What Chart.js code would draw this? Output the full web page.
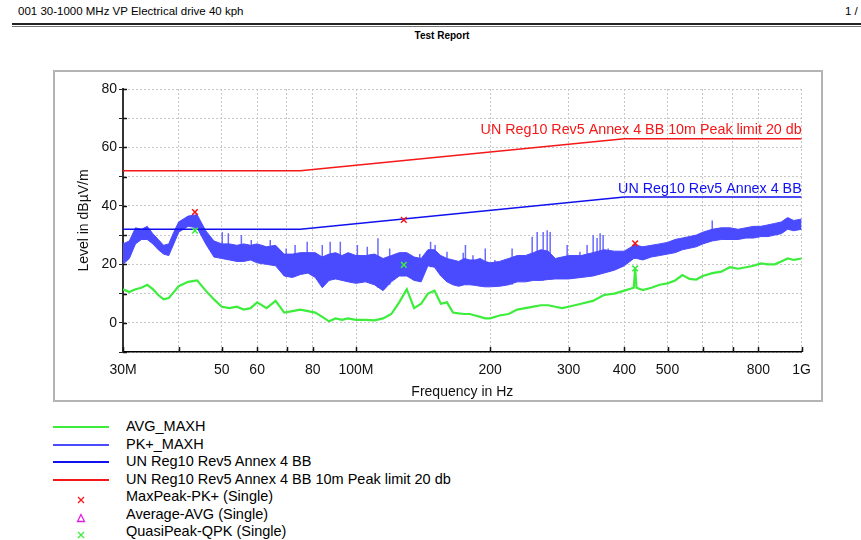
<!DOCTYPE html>
<html>
<head>
<meta charset="utf-8">
<script src="https://cdn.jsdelivr.net/npm/chart.js@4.4.1/dist/chart.umd.min.js"></script>
<style>
  body { margin: 0; width: 861px; height: 540px; overflow: hidden; background: #fff; position: relative;
         font-family: Arial, "Liberation Sans", sans-serif; color: #000; }
  #hdr { position: absolute; left: 18px; top: 5px; font-size: 11.5px; white-space: nowrap; }
  #pageno { position: absolute; left: 845px; top: 5px; font-size: 11.5px; white-space: nowrap; }
  #rule1 { position: absolute; left: 12px; right: 0; top: 23px; height: 2px; background: #222; }
  #rule2 { position: absolute; left: 12px; right: 0; top: 26px; height: 1px; background: #777; }
  #title { position: absolute; left: 0; width: 884px; top: 30px; text-align: center; font-size: 10px; font-weight: bold; }
  #frame { position: absolute; left: 53px; top: 70px; width: 770px; height: 332px; box-sizing: border-box;
           border: 2px solid #b4b4b4; background: #fff; }
  #wrap { position: absolute; left: 55px; top: 72px; width: 766px; height: 330px; }
  .row { position: absolute; left: 126px; height: 18px; line-height: 18px; font-size: 14.5px; white-space: nowrap; }
  .swatch { position: absolute; left: 53px; width: 56px; height: 2px; }
  .mark { position: absolute; left: 76px; }
</style>
</head>
<body>
<div id="hdr">001 30-1000 MHz VP Electrical drive 40 kph</div>
<div id="pageno">1 / 2</div>
<div id="rule1"></div>
<div id="rule2"></div>
<div id="title">Test Report</div>
<div id="frame"></div>
<div id="wrap"><canvas id="chart"></canvas></div>
<div id="legend"></div>

<script>
// frequencies in MHz
const freqs = [30, 31, 32, 33, 34, 35, 36, 37, 38, 39, 40,
  42, 44, 46, 48, 50, 52, 54, 56, 58, 60,
  63, 66, 69, 72, 75, 78, 81, 84, 87, 90, 93, 96,
  100, 105, 110, 115, 120, 125, 130, 135, 140, 145, 150, 155, 160, 165, 170, 175, 180, 185, 190, 195, 200,
  210, 220, 230, 240, 250, 260, 270, 280, 290, 300,
  320, 340, 360, 380, 400, 420, 423, 426,
  440, 460, 480, 500, 520, 540, 560, 580, 600,
  630, 660, 690, 720, 750, 780, 810, 840, 870, 900, 930, 960, 1000];

// PK+_MAXH, drawn as a band between the top and bottom of the noise
const pkTop = [27, 28, 32.5, 32, 33, 30.5, 28.5, 26.5, 27, 31, 34.5,
  36.5, 37, 31.5, 28, 27, 27, 26.5, 27, 26.5, 27,
  26, 26.5, 23.5, 23.5, 24, 24, 24, 22.5, 23.5, 24, 23, 24,
  23, 23, 23.5, 22, 23, 24, 24, 22.5, 22, 25, 25, 23, 22, 21.5, 21, 22, 21.5, 21.5, 22, 21, 20.5,
  21, 22, 23, 23, 24, 25, 24.5, 22, 22.5, 23,
  23, 24, 25, 24.5, 24.5, 26.5, 27, 26.5,
  26, 26.5, 27, 27.5, 28.5, 29, 29.5, 30, 31,
  32, 32.5, 32.5, 32, 32.5, 33, 33, 33.5, 34, 34.5, 36, 35, 35.5];
const pkBottom = [20, 22, 27, 28.5, 28.5, 27, 25, 23.5, 23, 27, 31,
  33, 32.5, 27, 22.5, 22, 21.5, 21, 21, 21.5, 20.5,
  20, 19.5, 16, 15.5, 16.5, 17, 15.5, 12, 14.5, 15, 14.5, 14,
  13.5, 14, 13, 11, 14, 16, 16, 14.5, 14, 19.5, 19, 16, 14, 13, 12.5, 13, 13, 12.8, 12.5, 12.3, 12.3,
  12.5, 13, 14, 14, 14.5, 14.5, 14.8, 15, 15, 15,
  15.5, 16, 17, 18, 19.5, 22, 22, 22,
  21.5, 22.5, 23, 23.5, 24, 25, 25.5, 26, 27,
  28, 28.5, 28.5, 28.5, 29, 29, 29.5, 29.5, 30, 30.5, 32, 31.5, 32];

// single narrow spikes of the PK+ trace above the band
const spikeFreqs = [50.1, 51.7, 55.3, 58.2, 64.2, 69.7, 73, 77.7, 84, 87.5, 92.2, 100.7, 106, 112, 119,
  139, 147, 150.5, 160, 174, 176, 183, 195, 205, 224, 248.5, 255, 263, 268.5, 272.7,
  297.7, 318, 330, 340.5, 347.5, 353, 358.5, 368, 630];
const spikeBase = [22, 22, 21.5, 21.5, 20, 17, 16, 17, 13, 15, 15, 14, 14, 12, 13,
  14, 19, 19, 14, 13, 13, 13, 12.5, 12.5, 13, 14.5, 14.5, 14.5, 14.8, 14.8,
  15, 15.5, 16, 16, 16.5, 17, 17, 17.5, 29];
const spikeTop = [31, 30.6, 30, 28.3, 28.3, 25.4, 26.6, 27.7, 26.6, 27.7, 27.7, 26.6, 26, 28.9, 25.4,
  23.5, 27.7, 26.6, 24.3, 24, 26.6, 23.1, 25.4, 21.5, 25.4, 29.4, 31.1, 31.1, 31.7, 31.1,
  26.6, 24.3, 26.6, 30, 29, 30.6, 30, 25.4, 35];

// AVG_MAXH
const avgMaxh = [11.5, 10.5, 11.5, 12, 13, 11.5, 9.5, 8, 8.5, 10.5, 12.5,
  14, 14.5, 11, 8, 5.5, 5, 5.5, 4.5, 5, 7,
  5, 7.5, 3.5, 4, 4.5, 4, 3.5, 2, 0.5, 1.5, 1, 1.5,
  1, 1, 0.8, 1.5, 3, 7, 11.5, 5, 6.5, 10, 11, 6.5, 7, 3.5, 3.2, 3, 3, 2.5, 2, 1.5, 1.5,
  2.5, 3, 4.5, 5, 5.5, 6, 6, 5.5, 5, 5.5,
  6.5, 7.5, 9.5, 10, 11, 12, 18.5, 12,
  11.2, 12, 13, 13.5, 14.5, 16.3, 15, 14.8, 16,
  17, 17.5, 19, 18.5, 19, 19.5, 20.3, 20, 20, 21, 22, 21.5, 22];

// limit lines
const limitFreqs = [30, 75, 400, 1000];
const limitBB = [32, 32, 43, 43];
const limitPeak = [52, 52, 63, 63];

// final measurements
const peakFreqs = [43.5, 128, 423];
const maxPeakPK = [37.9, 35.2, 27.2];
const quasiPeakQPK = [31.5, 19.8, 18.6];

const xTicks = [30, 40, 50, 60, 70, 80, 100, 200, 300, 400, 500, 600, 700, 800, 1000];
const xTickText = ['30M', '', '50', '60', '', '80', '100M', '200', '300', '400', '500', '', '', '800', '1G'];

const seriesNames = ['AVG_MAXH', 'PK+_MAXH', 'UN Reg10 Rev5 Annex 4 BB',
  'UN Reg10 Rev5 Annex 4 BB 10m Peak limit 20 db',
  'MaxPeak-PK+ (Single)', 'Average-AVG (Single)', 'QuasiPeak-QPK (Single)'];

const GREEN = '#3ced3c', PKBLUE = '#4a4aff', LIMBLUE = '#1010f0', RED = '#f41818';

const xy = (xs, ys) => xs.map((x, i) => ({ x, y: ys[i] }));
// each spike is a vertical stroke, separated by a gap
const spikes = spikeFreqs.flatMap((f, i) => [{ x: f, y: spikeBase[i] }, { x: f, y: spikeTop[i] }, { x: f, y: null }]);

// labels written on top of the limit lines, at their right end
const limitLabels = {
  id: 'limitLabels',
  afterDatasetsDraw(chart) {
    const { ctx, scales: { x, y } } = chart;
    ctx.save();
    ctx.font = '14.3px Arial, "Liberation Sans", sans-serif';
    ctx.textAlign = 'right';
    ctx.textBaseline = 'bottom';
    chart.data.datasets.forEach(ds => {
      if (!ds.limitText) return;
      const last = ds.data[ds.data.length - 1];
      ctx.fillStyle = ds.borderColor;
      ctx.fillText(ds.limitText, x.getPixelForValue(last.x), y.getPixelForValue(last.y) - 1);
    });
    ctx.restore();
  }
};

// short tick marks pointing into the plot, like the original report
const innerTicks = {
  id: 'innerTicks',
  afterDraw(chart) {
    const { ctx, scales: { x, y } } = chart;
    ctx.save();
    ctx.strokeStyle = '#111';
    ctx.lineWidth = 1.5;
    ctx.beginPath();
    x.ticks.forEach(t => {
      const px = Math.round(x.getPixelForValue(t.value)) + 0.5;
      ctx.moveTo(px, y.bottom);
      ctx.lineTo(px, y.bottom - 5);
    });
    y.ticks.forEach(t => {
      const py = Math.round(y.getPixelForValue(t.value)) + 0.5;
      ctx.moveTo(x.left, py);
      ctx.lineTo(x.left + 4, py);
    });
    ctx.stroke();
    ctx.restore();
  }
};

Chart.defaults.font.family = 'Arial, "Liberation Sans", sans-serif';
Chart.defaults.color = '#111';

new Chart(document.getElementById('chart'), {
  type: 'line',
  data: {
    datasets: [
      { label: seriesNames[0], data: xy(freqs, avgMaxh), borderColor: GREEN, borderWidth: 2.2, order: 2 },
      { label: seriesNames[1], data: xy(freqs, pkBottom), borderColor: PKBLUE, borderWidth: 1, order: 3 },
      { label: seriesNames[1], data: xy(freqs, pkTop), borderColor: PKBLUE, borderWidth: 1,
        backgroundColor: PKBLUE, fill: '-1', order: 3 },
      { label: seriesNames[1], data: spikes, borderColor: '#6a6aff', borderWidth: 1.5, spanGaps: false, order: 3 },
      { label: seriesNames[2], data: xy(limitFreqs, limitBB), borderColor: LIMBLUE, borderWidth: 1.5,
        limitText: seriesNames[2], order: 1 },
      { label: seriesNames[3], data: xy(limitFreqs, limitPeak), borderColor: RED, borderWidth: 1.5,
        limitText: seriesNames[3], order: 1 },
      { label: seriesNames[4], data: xy(peakFreqs, maxPeakPK), showLine: false, pointStyle: 'crossRot',
        pointRadius: 4, pointBorderWidth: 1.5, borderColor: RED, order: 0 },
      { label: seriesNames[6], data: xy(peakFreqs, quasiPeakQPK), showLine: false, pointStyle: 'crossRot',
        pointRadius: 4, pointBorderWidth: 1.5, borderColor: GREEN, order: 0 }
    ]
  },
  options: {
    responsive: true,
    maintainAspectRatio: false,
    animation: false,
    elements: { point: { radius: 0 }, line: { tension: 0 } },
    layout: { padding: { left: 0, right: 19, top: 17, bottom: 0 } },
    plugins: { legend: { display: false }, tooltip: { enabled: false } },
    scales: {
      x: {
        type: 'logarithmic', min: 30, max: 1000,
        afterBuildTicks: s => { s.ticks = xTicks.map(v => ({ value: v })); },
        afterFit: s => { s.height = 50; },
        ticks: { autoSkip: false, maxRotation: 0, padding: 10, font: { size: 14 },
                 callback: v => xTickText[xTicks.indexOf(v)] || '' },
        grid: { color: '#c6c6c6', drawTicks: false },
        border: { dash: [2, 2], color: '#000', width: 1.5 },
        title: { display: true, text: 'Frequency in Hz', font: { size: 14 }, padding: { top: 0, bottom: 1.5 } }
      },
      y: {
        min: -10, max: 80,
        afterFit: s => { s.width = 68; },
        ticks: { stepSize: 10, padding: 2, font: { size: 14 },
                 callback: v => (v >= 0 && v % 20 === 0) ? v : '' },
        grid: { color: '#c6c6c6', tickLength: 4, tickColor: '#222', tickBorderDash: [] },
        border: { dash: [2, 2], color: '#333', width: 2 },
        title: { display: true, text: 'Level in dBµV/m', font: { size: 14 }, padding: { top: 20.5, bottom: 0 } }
      }
    }
  },
  plugins: [limitLabels, innerTicks]
});

// legend below the frame
const legend = document.getElementById('legend');
const swatches = [GREEN, PKBLUE, LIMBLUE, RED];
const marks = [
  `<svg width="10" height="10"><path d="M2 2L8 8M8 2L2 8" stroke="${RED}" stroke-width="1.3"/></svg>`,
  `<svg width="10" height="10"><path d="M5 1.5L8.5 8.5H1.5Z" fill="none" stroke="#e020e0" stroke-width="1.3"/></svg>`,
  `<svg width="10" height="10"><path d="M2 2L8 8M8 2L2 8" stroke="${GREEN}" stroke-width="1.3"/></svg>`
];
seriesNames.forEach((name, i) => {
  const cy = 426 + 17.5 * i;
  let html = `<div class="row" style="top:${cy - 9}px">${name}</div>`;
  if (i < 4) html += `<div class="swatch" style="top:${Math.round(cy)}px;background:${swatches[i]}"></div>`;
  else html += `<div class="mark" style="top:${cy - 5}px">${marks[i - 4]}</div>`;
  legend.insertAdjacentHTML('beforeend', html);
});
</script>
</body>
</html>
